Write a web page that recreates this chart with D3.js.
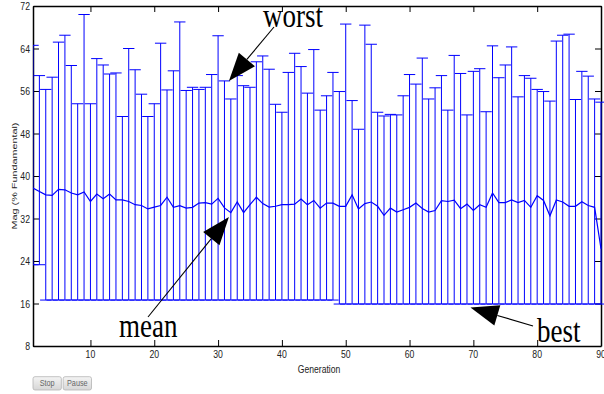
<!DOCTYPE html>
<html>
<head>
<meta charset="utf-8">
<script src="https://cdn.jsdelivr.net/npm/d3@7"></script>
<style>
  html, body { margin: 0; padding: 0; background: #fff; }
  svg { display: block; }
</style>
</head>
<body>
<svg id="chart" width="604" height="394"></svg>
<script>
// Generation-by-generation fitness spread of the population: worst, mean and best
const generations = d3.range(1, 91);

const worstValues = [
  64.6, 58.9, 56.3, 58.6, 65.2, 66.5, 60.8, 53.6, 70.4, 53.6,
  62.1, 60.9, 59.2, 59.4, 51.2, 64.0, 60.0, 55.4, 51.2, 53.6,
  65.0, 56.2, 59.8, 69.0, 56.1, 56.7, 56.3, 56.7, 59.1, 66.4,
  57.9, 54.5, 58.9, 57.0, 56.7, 61.5, 62.6, 60.1, 53.5, 52.0,
  59.5, 63.1, 60.6, 55.6, 63.8, 52.4, 55.1, 59.5, 55.9, 68.6,
  54.2, 48.8, 68.4, 64.8, 52.0, 51.3, 51.6, 51.5, 55.1, 59.1,
  57.3, 62.2, 54.5, 56.6, 58.9, 52.4, 62.7, 59.3, 51.5, 59.7,
  60.2, 52.1, 64.5, 58.5, 60.9, 64.3, 54.9, 58.9, 58.4, 56.3,
  55.9, 54.1, 65.4, 66.5, 66.7, 54.4, 59.7, 58.8, 54.5, 53.9
];

const meanValues = [
  37.75, 37.1, 36.45, 36.35, 37.5, 37.4, 36.8, 36.45, 37.0, 35.2,
  36.6, 35.7, 36.6, 35.5, 35.5, 35.2, 34.6, 34.45, 33.8, 34.15,
  34.45, 36.0, 34.1, 34.4, 33.95, 34.1, 34.9, 35.0, 34.7, 35.8,
  34.0, 33.1, 35.1, 33.1, 34.6, 36.0, 34.8, 34.15, 34.3, 34.6,
  34.6, 34.7, 35.65, 34.6, 35.4, 33.95, 34.9, 34.9, 34.3, 34.3,
  36.45, 33.8, 34.8, 35.1, 34.3, 32.6, 33.95, 33.2, 33.65, 34.1,
  34.9, 33.9, 33.2, 33.5, 35.35, 35.2, 35.45, 33.85, 34.7, 33.5,
  34.6, 34.1, 36.8, 35.0, 35.0, 35.5, 35.0, 35.4, 34.1, 36.3,
  35.4, 32.5, 35.5, 35.1, 34.3, 34.3, 35.15, 34.45, 34.1, 26.3
];

const bestValues = [
  23.3, 23.3, 16.65, 16.65, 16.65, 16.65, 16.65, 16.65, 16.65, 16.65,
  16.65, 16.65, 16.65, 16.65, 16.65, 16.65, 16.65, 16.65, 16.65, 16.65,
  16.65, 16.65, 16.65, 16.65, 16.65, 16.65, 16.65, 16.65, 16.65, 16.65,
  16.65, 16.65, 16.65, 16.65, 16.65, 16.65, 16.65, 16.65, 16.65, 16.65,
  16.65, 16.65, 16.65, 16.65, 16.65, 16.65, 16.65, 16.65, 15.9, 15.9,
  15.9, 15.9, 15.9, 15.9, 15.9, 15.9, 15.9, 15.9, 15.9, 15.9,
  15.9, 15.9, 15.9, 15.9, 15.9, 15.9, 15.9, 15.9, 15.9, 15.9,
  15.9, 15.9, 15.9, 15.9, 15.9, 15.9, 15.9, 15.9, 15.9, 15.9,
  15.9, 15.9, 15.9, 15.9, 15.9, 15.9, 15.9, 15.9, 15.9, 15.9
];

const xTickValues = [10, 20, 30, 40, 50, 60, 70, 80, 90];
const yTickValues = [8, 16, 24, 32, 40, 48, 56, 64, 72];

const xLabel = 'Generation';
const yLabel = 'Mag (% Fundamental)';
const buttonLabels = ['Stop', 'Pause'];

// ---- layout ----
const W = 604, H = 394;
const plot = { left: 33, right: 601, top: 6, bottom: 346 };
const STRETCH = 1.35;          // axis glyphs are drawn taller than wide
const ANN_STRETCH = 1.25;      // same for the large annotation words
const BLUE = '#0000ff';
const TICK = 6;

const x = d3.scaleLinear().domain([1, 90]).range([plot.left, plot.right]);
const y = d3.scaleLinear().domain([8, 72]).range([plot.bottom, plot.top]);

const svg = d3.select('#chart');

svg.append('defs').append('clipPath').attr('id', 'plotClip')
  .append('rect')
  .attr('x', plot.left).attr('y', 0)
  .attr('width', W - plot.left).attr('height', plot.bottom + 1);

// ---- axes box with inward ticks ----
function styleAxis(g) {
  g.select('.domain').attr('stroke', '#000').attr('stroke-width', 1.5);
  g.selectAll('.tick line').attr('stroke', '#000').attr('stroke-width', 1);
  g.selectAll('.tick text').remove();
}
svg.append('g').attr('transform', `translate(0,${plot.bottom})`)
  .call(d3.axisBottom(x).tickValues(xTickValues).tickSizeInner(-TICK).tickSizeOuter(0))
  .call(styleAxis);
svg.append('g').attr('transform', `translate(0,${plot.top})`)
  .call(d3.axisTop(x).tickValues(xTickValues).tickSizeInner(-TICK).tickSizeOuter(0))
  .call(styleAxis);
svg.append('g').attr('transform', `translate(${plot.left},0)`)
  .call(d3.axisLeft(y).tickValues(yTickValues).tickSizeInner(-TICK).tickSizeOuter(0))
  .call(styleAxis);
svg.append('g').attr('transform', `translate(${plot.right},0)`)
  .call(d3.axisRight(y).tickValues(yTickValues).tickSizeInner(-TICK).tickSizeOuter(0))
  .call(styleAxis);

// tick labels
const tickFont = { family: 'Liberation Sans, Arial, sans-serif', size: 8.7, color: '#222' };
svg.append('g').selectAll('text').data(xTickValues).join('text')
  .attr('transform', d => `translate(${x(d)},${plot.bottom + 12.4}) scale(1,${STRETCH})`)
  .attr('text-anchor', 'middle')
  .attr('font-family', tickFont.family).attr('font-size', tickFont.size)
  .attr('fill', tickFont.color)
  .text(d => d);
svg.append('g').selectAll('text').data(yTickValues).join('text')
  .attr('transform', d => `translate(${plot.left - 3},${y(d) + 4.1}) scale(1,${STRETCH})`)
  .attr('text-anchor', 'end')
  .attr('font-family', tickFont.family).attr('font-size', tickFont.size)
  .attr('fill', tickFont.color)
  .text(d => d);

// axis titles
svg.append('text')
  .attr('transform', `translate(${(plot.left + plot.right) / 2 + 2},${plot.bottom + 26.5}) scale(1,${STRETCH})`)
  .attr('text-anchor', 'middle')
  .attr('font-family', tickFont.family).attr('font-size', 8.6)
  .attr('fill', tickFont.color)
  .text(xLabel);
svg.append('text')
  .attr('transform', `translate(17,${(plot.top + plot.bottom) / 2}) rotate(-90) scale(${STRETCH},1)`)
  .attr('text-anchor', 'middle')
  .attr('font-family', tickFont.family).attr('font-size', 8.0)
  .attr('fill', tickFont.color)
  .text(yLabel);

// ---- error bars: best..worst range with tee caps, and the mean line ----
const rows = generations.map((g, i) => ({ g, worst: worstValues[i], mean: meanValues[i], best: bestValues[i] }));
const tee = (x.domain()[1] - x.domain()[0]) / 100;

const marks = svg.append('g').attr('clip-path', 'url(#plotClip)')
  .attr('stroke', BLUE).attr('stroke-width', 1).attr('fill', 'none');

marks.append('g').selectAll('line').data(rows).join('line')
  .attr('x1', d => x(d.g)).attr('x2', d => x(d.g))
  .attr('y1', d => y(d.best)).attr('y2', d => y(d.worst));
marks.append('g').selectAll('line').data(rows).join('line')
  .attr('x1', d => x(d.g - tee)).attr('x2', d => x(d.g + tee))
  .attr('y1', d => y(d.worst)).attr('y2', d => y(d.worst));
marks.append('g').selectAll('line').data(rows).join('line')
  .attr('x1', d => x(d.g - tee)).attr('x2', d => x(d.g + tee))
  .attr('y1', d => y(d.best)).attr('y2', d => y(d.best));

marks.append('path')
  .datum(rows)
  .attr('stroke-width', 1.2)
  .attr('stroke-linejoin', 'miter')
  .attr('d', d3.line().x(d => x(d.g)).y(d => y(d.mean)));

// ---- annotations with filled arrowheads ----
const annotations = [
  { label: 'worst', tip: [31.7, 57.9], tail: [274, 27], at: [263, 26.8] },
  { label: 'mean',  tip: [31.7, 32.3], tail: [148, 317], at: [119, 336.5] },
  { label: 'best',  tip: [69.55, 15.26], tail: [533, 326], at: [537, 341.5] }
];
const headLen = 28, headHalf = 10.5;
const ann = svg.append('g');
annotations.forEach(a => {
  const tx = x(a.tip[0]), ty = y(a.tip[1]);
  const [sx, sy] = a.tail;
  const len = Math.hypot(tx - sx, ty - sy);
  const ux = (tx - sx) / len, uy = (ty - sy) / len;
  const bx = tx - ux * headLen, by = ty - uy * headLen;
  ann.append('line')
    .attr('x1', sx).attr('y1', sy).attr('x2', bx).attr('y2', by)
    .attr('stroke', '#000').attr('stroke-width', 1.1);
  ann.append('path')
    .attr('d', `M${tx},${ty}L${bx - uy * headHalf},${by + ux * headHalf}L${bx + uy * headHalf},${by - ux * headHalf}Z`)
    .attr('fill', '#000');
  ann.append('text')
    .attr('transform', `translate(${a.at[0]},${a.at[1]}) scale(1,${ANN_STRETCH})`)
    .attr('font-family', 'Liberation Serif, Times New Roman, serif')
    .attr('font-size', 27)
    .attr('fill', '#000')
    .text(a.label);
});

// ---- control buttons below the axes ----
const grad = svg.select('defs').append('linearGradient')
  .attr('id', 'btnFill').attr('x1', 0).attr('y1', 0).attr('x2', 0).attr('y2', 1);
grad.append('stop').attr('offset', '0%').attr('stop-color', '#f4f4f4');
grad.append('stop').attr('offset', '100%').attr('stop-color', '#d6d6d6');

const btnX = d3.scaleBand().domain(buttonLabels).range([33, 91.5]).paddingInner(0.06);
const btn = svg.append('g').selectAll('g').data(buttonLabels).join('g')
  .attr('transform', d => `translate(${btnX(d)},376.7)`);
btn.append('rect')
  .attr('width', btnX.bandwidth()).attr('height', 13.3)
  .attr('rx', 2)
  .attr('fill', 'url(#btnFill)').attr('stroke', '#b4b4b4').attr('stroke-width', 0.8);
btn.append('text')
  .attr('transform', `translate(${btnX.bandwidth() / 2},9.6) scale(1,${STRETCH})`)
  .attr('text-anchor', 'middle')
  .attr('font-family', tickFont.family).attr('font-size', 7.3)
  .attr('fill', '#666')
  .text(d => d);
</script>
</body>
</html>
